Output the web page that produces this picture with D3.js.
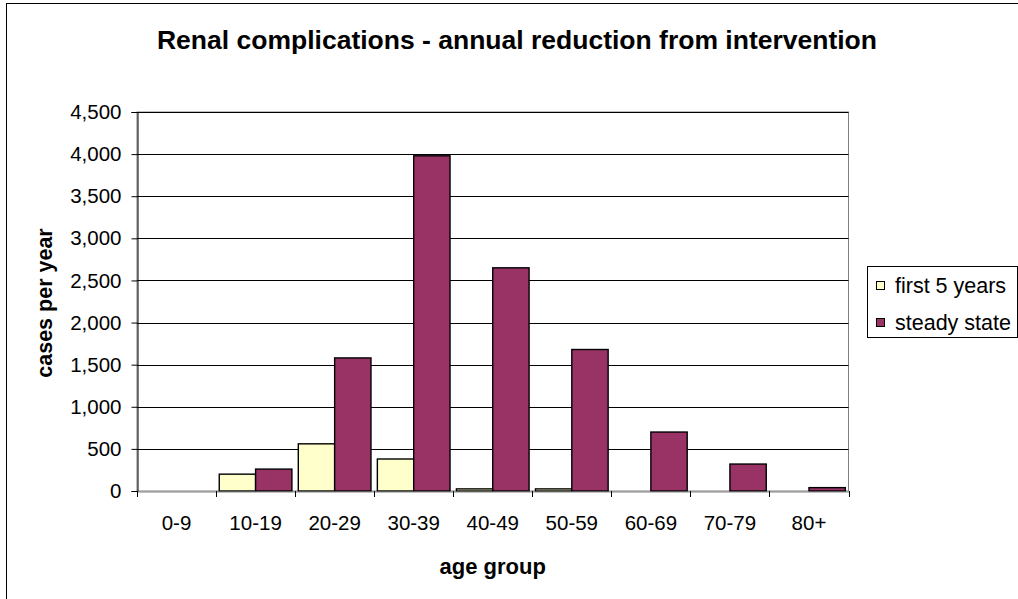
<!DOCTYPE html>
<html>
<head>
<meta charset="utf-8">
<script src="https://cdn.jsdelivr.net/npm/d3@7"></script>
<style>
  html, body { margin: 0; padding: 0; background: #fff; }
  svg { display: block; font-family: Arial, "Liberation Sans", sans-serif; }
</style>
</head>
<body>
<svg id="chart" width="1018" height="599"></svg>
<script>
// Age groups and annual reduction in renal complications (cases per year)
const categories = ["0-9", "10-19", "20-29", "30-39", "40-49", "50-59", "60-69", "70-79", "80+"];
const seriesNames = ["first 5 years", "steady state"];
const firstFiveYears = [0, 200, 560, 380, 25, 25, 0, 0, 0];
const steadyState = [0, 260, 1580, 3980, 2650, 1680, 700, 320, 40];
const yTicks = [0, 500, 1000, 1500, 2000, 2500, 3000, 3500, 4000, 4500];
const seriesColors = ["#FFFFCC", "#993366"];

const titleText = "Renal complications - annual reduction from intervention";
const yTitle = "cases per year";
const xTitle = "age group";

const svg = d3.select("#chart");
const W = 1018, H = 599;
const plot = { left: 137, right: 848.5, top: 112, bottom: 491 };

// chart frame (runs off the right and bottom edges)
svg.append("rect")
  .attr("x", 6.5).attr("y", 3.5)
  .attr("width", W + 20).attr("height", H + 20)
  .attr("fill", "#fff").attr("stroke", "#000").attr("stroke-width", 1);

const x0 = d3.scaleBand().domain(categories).range([plot.left, plot.right]).padding(0);
const x1 = d3.scaleBand().domain(seriesNames).range([0, x0.bandwidth()]).paddingInner(0).paddingOuter(0.088);
const y = d3.scaleLinear().domain([0, 4500]).range([plot.bottom, plot.top]);

// plot area border
svg.append("rect")
  .attr("x", plot.left).attr("y", plot.top)
  .attr("width", plot.right - plot.left).attr("height", plot.bottom - plot.top)
  .attr("fill", "#fff").attr("stroke", "#808080").attr("stroke-width", 1);

// horizontal gridlines
svg.append("g")
  .selectAll("line")
  .data(yTicks.filter(d => d > 0))
  .join("line")
  .attr("x1", plot.left).attr("x2", plot.right)
  .attr("y1", d => Math.round(y(d)) + 0.5).attr("y2", d => Math.round(y(d)) + 0.5)
  .attr("stroke", "#000").attr("stroke-width", 1);

// bars
const rows = categories.map((c, i) => ({ cat: c, values: [firstFiveYears[i], steadyState[i]] }));
const groups = svg.append("g")
  .selectAll("g")
  .data(rows)
  .join("g")
  .attr("transform", d => `translate(${x0(d.cat)},0)`);

groups.selectAll("rect")
  .data(d => d.values.map((v, k) => ({ key: seriesNames[k], v, k })).filter(d => d.v > 0))
  .join("rect")
  .attr("x", d => x1(d.key))
  .attr("width", x1.bandwidth())
  .attr("y", d => y(d.v))
  .attr("height", d => y(0) - y(d.v))
  .attr("fill", d => seriesColors[d.k])
  .attr("stroke", "#000").attr("stroke-width", 1.4);

// y axis
const yAxis = svg.append("g")
  .attr("transform", `translate(${plot.left + 0.5},0)`)
  .call(d3.axisLeft(y).tickValues(yTicks).tickFormat(d3.format(",")).tickSize(6).tickPadding(10));
yAxis.select(".domain").attr("stroke", "#000");
yAxis.selectAll(".tick line").attr("stroke", "#000");
yAxis.selectAll("text").attr("font-size", 20.5).attr("fill", "#000")
  .attr("font-family", "Arial, 'Liberation Sans', sans-serif");

// x axis
const xAxis = svg.append("g")
  .attr("transform", `translate(0,${plot.bottom + 0.5})`)
  .call(d3.axisBottom(x0).tickSize(0).tickPadding(23.5));
xAxis.select(".domain").attr("stroke", "#808080");
xAxis.selectAll("text").attr("font-size", 20.5).attr("fill", "#000")
  .attr("font-family", "Arial, 'Liberation Sans', sans-serif");
// category separator ticks
svg.append("g")
  .selectAll("line")
  .data(categories.concat(["__end"]))
  .join("line")
  .attr("x1", (d, i) => Math.round(plot.left + i * x0.step()) + 0.5)
  .attr("x2", (d, i) => Math.round(plot.left + i * x0.step()) + 0.5)
  .attr("y1", plot.bottom).attr("y2", plot.bottom + 6)
  .attr("stroke", "#000").attr("stroke-width", 1);

// titles
svg.append("text")
  .attr("x", 517).attr("y", 49)
  .attr("text-anchor", "middle")
  .attr("font-size", 26.5).attr("font-weight", "bold")
  .text(titleText);

svg.append("text")
  .attr("transform", `translate(52,303) rotate(-90)`)
  .attr("text-anchor", "middle")
  .attr("font-size", 21.5).attr("font-weight", "bold")
  .text(yTitle);

svg.append("text")
  .attr("x", (plot.left + plot.right) / 2).attr("y", 574)
  .attr("text-anchor", "middle")
  .attr("font-size", 22).attr("font-weight", "bold")
  .text(xTitle);

// legend
const legend = svg.append("g").attr("transform", "translate(867,266)");
legend.append("rect")
  .attr("x", 0.5).attr("y", 0.5).attr("width", 150).attr("height", 71)
  .attr("fill", "#fff").attr("stroke", "#000");
const items = legend.selectAll("g.item")
  .data(seriesNames)
  .join("g")
  .attr("class", "item")
  .attr("transform", (d, i) => `translate(0,${19 + i * 37})`);
items.append("rect")
  .attr("x", 9.5).attr("y", -3.5).attr("width", 8).attr("height", 8)
  .attr("fill", (d, i) => seriesColors[i]).attr("stroke", "#000");
items.append("text")
  .attr("x", 28).attr("y", 0).attr("dy", "0.35em")
  .attr("font-size", 21.5)
  .text(d => d);
</script>
</body>
</html>
